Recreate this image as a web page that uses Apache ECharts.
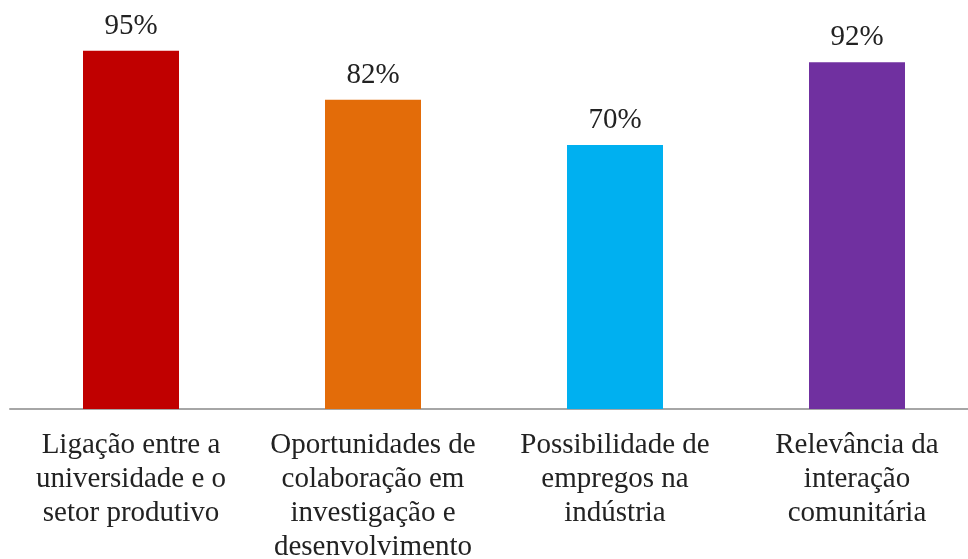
<!DOCTYPE html>
<html>
<head>
<meta charset="utf-8">
<script src="https://cdn.jsdelivr.net/npm/echarts@6/dist/echarts.min.js"></script>
<style>html,body{margin:0;padding:0;background:#fff;}#c{width:968px;height:559px;}</style>
</head>
<body>
<div id="c"></div>
<script>
const categories = [
  "Ligação entre a\nuniversidade e o\nsetor produtivo",
  "Oportunidades de\ncolaboração em\ninvestigação e\ndesenvolvimento",
  "Possibilidade de\nempregos na\nindústria",
  "Relevância da\ninteração\ncomunitária"
];
const values = [95, 82, 70, 92];
const colors = ["#C00000", "#E36C09", "#00B0F0", "#7030A0"];

const chart = echarts.init(document.getElementById('c'), null, {renderer: 'canvas'});
chart.setOption({
  animation: false,
  backgroundColor: '#ffffff',
  grid: {left: 10, top: 32, right: -10, bottom: 150, containLabel: false, outerBoundsMode: 'none'},
  xAxis: {
    type: 'category',
    data: categories,
    axisLine: {show: true, lineStyle: {color: '#a6a6a6', width: 2}},
    axisTick: {show: false},
    axisLabel: {
      interval: 0,
      margin: 19,
      fontFamily: 'Liberation Serif',
      fontSize: 29,
      lineHeight: 34,
      color: '#222'
    }
  },
  yAxis: {
    type: 'value',
    min: 0,
    max: 100,
    show: false,
    splitLine: {show: false}
  },
  series: [{
    type: 'bar',
    barWidth: 96,
    data: values.map((v, i) => ({value: v, itemStyle: {color: colors[i]}})),
    label: {
      show: true,
      position: 'top',
      distance: 10,
      formatter: p => p.value + '%',
      fontFamily: 'Liberation Serif',
      fontSize: 29,
      color: '#222'
    }
  }]
});
</script>
</body>
</html>
